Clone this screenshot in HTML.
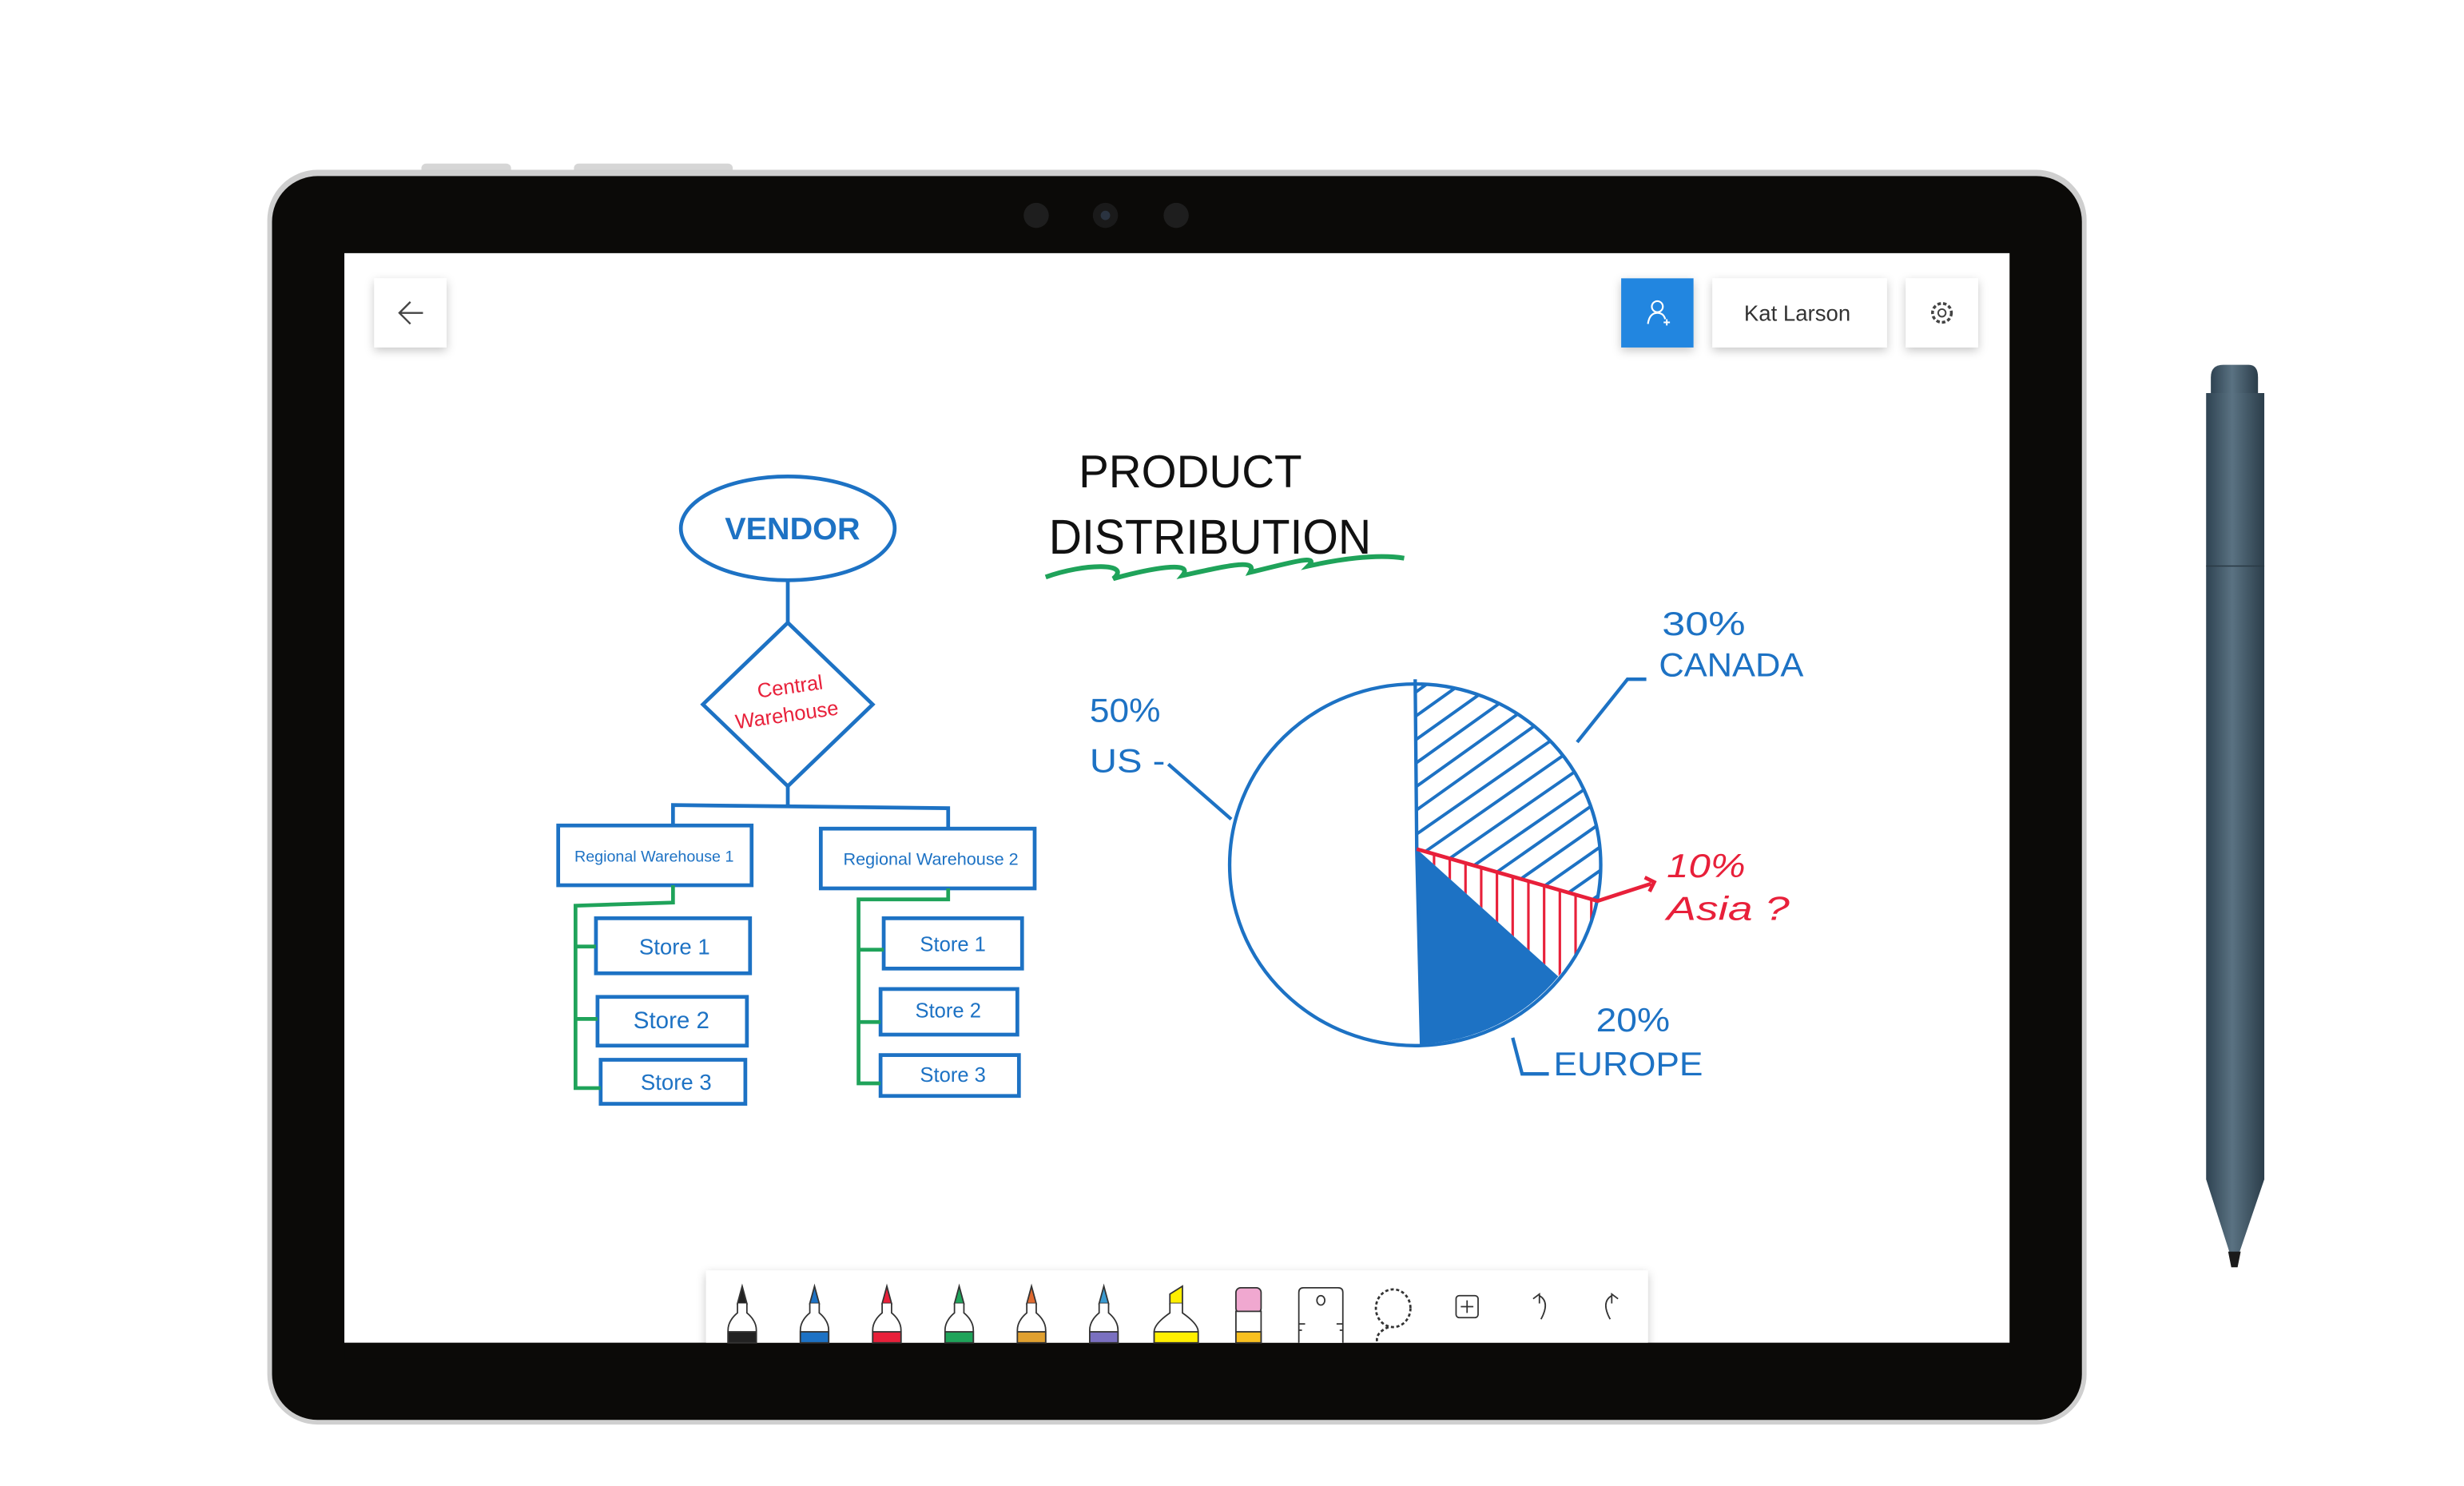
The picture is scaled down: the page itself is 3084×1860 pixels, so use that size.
<!DOCTYPE html>
<html><head><meta charset="utf-8"><style>
html,body{margin:0;padding:0;background:#fff;width:3084px;height:1860px;overflow:hidden}
svg{display:block}
text{font-family:"Liberation Sans",sans-serif}
</style></head><body>
<svg width="3084" height="1860" viewBox="0 0 1567 945.07" xmlns="http://www.w3.org/2000/svg">
<defs>
<filter id="sh" x="-30%" y="-30%" width="160%" height="170%"><feDropShadow dx="0" dy="2" stdDeviation="3" flood-color="#000" flood-opacity="0.22"/></filter>
<linearGradient id="pen" x1="0" x2="1"><stop offset="0" stop-color="#2f4352"/><stop offset="0.45" stop-color="#5a7282"/><stop offset="1" stop-color="#2b3d4a"/></linearGradient>
<clipPath id="canClip"><path d="M901,540 L900,435 A118,115 0 0 1 1016,573 Z"/></clipPath>
<clipPath id="asClip"><path d="M901,540 L1016,573 A118,115 0 0 1 991,621 Z"/></clipPath>
</defs>
<!-- tablet -->
<rect x="268" y="104" width="57" height="8" rx="3" fill="#d6d6d6"/>
<rect x="365" y="104" width="101" height="8" rx="3" fill="#d6d6d6"/>
<rect x="170" y="108" width="1157" height="798" rx="32" fill="#cfcfcf"/>
<rect x="173" y="112" width="1151" height="791" rx="29" fill="#0b0a08"/>
<circle cx="659" cy="137" r="8" fill="#1e1e1e"/><circle cx="703" cy="137" r="8" fill="#1a1a1a"/><circle cx="703" cy="137" r="3" fill="#2a3340"/><circle cx="748" cy="137" r="8" fill="#1e1e1e"/>
<rect x="219" y="161" width="1059" height="693" fill="#fff"/>
<!-- top buttons -->
<rect x="238" y="177" width="46" height="44" fill="#fff" filter="url(#sh)"/>
<path d="M254,199 H269 M261,192 L254,199 L261,206" stroke="#444" stroke-width="1.2" fill="none"/>
<rect x="1031" y="177" width="46" height="44" fill="#2386e0" filter="url(#sh)"/>
<circle cx="1054" cy="195" r="3.5" fill="none" stroke="#fff" stroke-width="1.1"/><path d="M1048,206 Q1049,199 1054,199 Q1058,199 1059,203" stroke="#fff" stroke-width="1.1" fill="none"/><path d="M1058,205 h4 M1060,203 v4" stroke="#fff" stroke-width="1"/>
<rect x="1089" y="177" width="111" height="44" fill="#fff" filter="url(#sh)"/>
<text x="1143" y="204" font-size="14" text-anchor="middle" fill="#333">Kat Larson</text>
<rect x="1212" y="177" width="46" height="44" fill="#fff" filter="url(#sh)"/>
<circle cx="1235" cy="199" r="6" fill="none" stroke="#444" stroke-width="1.8" stroke-dasharray="2.2 1.4"/><circle cx="1235" cy="199" r="2.4" fill="none" stroke="#444" stroke-width="1"/>
<!-- title -->
<text x="686" y="310" font-size="29" fill="#111" textLength="142" lengthAdjust="spacingAndGlyphs">PRODUCT</text>
<text x="667" y="352" font-size="31" fill="#111" textLength="205" lengthAdjust="spacingAndGlyphs">DISTRIBUTION</text>
<path d="M665,367 C690,358 720,358 708,368 C730,362 760,356 752,366 C780,360 800,355 795,364 C820,358 840,352 832,360 C850,356 875,352 893,355" stroke="#1fa35a" stroke-width="3" fill="none"/>
<!-- flowchart -->
<g stroke="#1d72c4" stroke-width="2.4" fill="none">
<ellipse cx="501" cy="336" rx="68" ry="33"/>
<path d="M501,369 V397"/>
<path d="M501,396 L555,448 L501,500 L447,448 Z"/>
<path d="M501,500 V512 M428,525 V512 L603,514 V527"/>
<rect x="355" y="525" width="123" height="38"/>
<rect x="522" y="527" width="136" height="38"/>
<rect x="379" y="584" width="98" height="35"/>
<rect x="380" y="634" width="95" height="31"/>
<rect x="382" y="674" width="92" height="28"/>
<rect x="562" y="584" width="88" height="32"/>
<rect x="560" y="629" width="87" height="29"/>
<rect x="560" y="671" width="88" height="26"/>
</g>
<g stroke="#1fa35a" stroke-width="2.4" fill="none">
<path d="M428,563 V574 L366,576 V692 H382 M366,602 H379 M366,648 H380"/>
<path d="M603,565 V572 H546 V689 H560 M546,604 H562 M546,650 H560"/>
</g>
<text x="504" y="343" font-size="20" font-weight="bold" fill="#1d72c4" text-anchor="middle" textLength="86" lengthAdjust="spacingAndGlyphs">VENDOR</text>
<text x="503" y="441" font-size="13" fill="#e8203a" text-anchor="middle" transform="rotate(-8 503 441)">Central</text>
<text x="501" y="459" font-size="13" fill="#e8203a" text-anchor="middle" transform="rotate(-8 501 459)">Warehouse</text>
<g fill="#1d72c4" text-anchor="middle">
<text x="416" y="548" font-size="10">Regional Warehouse 1</text>
<text x="592" y="550" font-size="11">Regional Warehouse 2</text>
<text x="429" y="607" font-size="14">Store 1</text>
<text x="427" y="654" font-size="15">Store 2</text>
<text x="430" y="693" font-size="14">Store 3</text>
<text x="606" y="605" font-size="13">Store 1</text>
<text x="603" y="647" font-size="13">Store 2</text>
<text x="606" y="688" font-size="13">Store 3</text>
</g>
<!-- pie -->
<g clip-path="url(#canClip)" stroke="#1d72c4" stroke-width="2">
<path d="M880,470 L950,420 M880,485 L960,428 M880,500 L975,432 M880,515 L985,440 M880,530 L995,448 M880,545 L1005,458 M880,560 L1012,468 M880,575 L1020,478 M880,590 L1025,490 M880,605 L1030,500 M880,620 L1030,515 M880,635 L1030,530 M880,650 L1030,545 M880,665 L1030,560 M880,680 L1030,575 M880,695 L1030,590 M880,455 L935,415 M880,440 L920,412"/>
</g>
<g clip-path="url(#asClip)" stroke="#e8203a" stroke-width="1.6">
<path d="M912,540 V560 M922,545 V570 M932,548 V590 M942,550 V600 M952,552 V610 M962,555 V620 M972,558 V630 M982,561 V635 M992,564 V630 M1002,567 V620 M1012,570 V610"/>
</g>
<path d="M901,540 L991,621 A118,115 0 0 1 904,664 Z" fill="#1d72c4"/>
<ellipse cx="900" cy="550" rx="118" ry="115" fill="none" stroke="#1d72c4" stroke-width="2.2"/>
<path d="M900,432 L901,540 L904,664" stroke="#1d72c4" stroke-width="2.2" fill="none"/>
<path d="M901,540 L1016,573 L1050,562 M1046,558 L1052,561 L1049,567" stroke="#e8203a" stroke-width="2.4" fill="none"/>
<g fill="#1d72c4" font-size="21">
<text x="693" y="459" textLength="45" lengthAdjust="spacingAndGlyphs">50%</text>
<text x="693" y="491" textLength="48" lengthAdjust="spacingAndGlyphs">US -</text>
<text x="1057" y="404" textLength="53" lengthAdjust="spacingAndGlyphs">30%</text>
<text x="1055" y="430" textLength="92" lengthAdjust="spacingAndGlyphs">CANADA</text>
<text x="1015" y="656" textLength="47" lengthAdjust="spacingAndGlyphs">20%</text>
<text x="988" y="684" textLength="95" lengthAdjust="spacingAndGlyphs">EUROPE</text>
</g>
<g fill="#e8203a" font-size="21" font-style="italic">
<text x="1060" y="558" textLength="50" lengthAdjust="spacingAndGlyphs">10%</text>
<text x="1060" y="585" textLength="78" lengthAdjust="spacingAndGlyphs">Asia ?</text>
</g>
<g stroke="#1d72c4" stroke-width="2.2" fill="none">
<path d="M743,486 L783,521"/>
<path d="M1003,472 L1035,432 H1047"/>
<path d="M962,660 L968,683 H985"/>
</g>
<!-- toolbar -->
<rect x="449" y="808" width="599" height="50" fill="#fff" filter="url(#sh)"/>
<rect x="219" y="854" width="1059" height="10" fill="#0b0a08"/>
<g stroke="#333" stroke-width="0.9">
<g transform="translate(472,0)"><path d="M-3,829 L0,818 L3,829 Z" fill="#222"/><path d="M-3,829 V835 Q-9,840 -9,846 V854 H9 V846 Q9,840 3,835 V829" fill="#fff"/><rect x="-9" y="847" width="18" height="7" fill="#222"/></g>
<g transform="translate(518,0)"><path d="M-3,829 L0,818 L3,829 Z" fill="#1d72c4"/><path d="M-3,829 V835 Q-9,840 -9,846 V854 H9 V846 Q9,840 3,835 V829" fill="#fff"/><rect x="-9" y="847" width="18" height="7" fill="#1d72c4"/></g>
<g transform="translate(564,0)"><path d="M-3,829 L0,818 L3,829 Z" fill="#e8203a"/><path d="M-3,829 V835 Q-9,840 -9,846 V854 H9 V846 Q9,840 3,835 V829" fill="#fff"/><rect x="-9" y="847" width="18" height="7" fill="#e8203a"/></g>
<g transform="translate(610,0)"><path d="M-3,829 L0,818 L3,829 Z" fill="#1fa35a"/><path d="M-3,829 V835 Q-9,840 -9,846 V854 H9 V846 Q9,840 3,835 V829" fill="#fff"/><rect x="-9" y="847" width="18" height="7" fill="#1fa35a"/></g>
<g transform="translate(656,0)"><path d="M-3,829 L0,818 L3,829 Z" fill="#e06a30"/><path d="M-3,829 V835 Q-9,840 -9,846 V854 H9 V846 Q9,840 3,835 V829" fill="#fff"/><rect x="-9" y="847" width="18" height="7" fill="#e0a030"/></g>
<g transform="translate(702,0)"><path d="M-3,829 L0,818 L3,829 Z" fill="#3a9ad0"/><path d="M-3,829 V835 Q-9,840 -9,846 V854 H9 V846 Q9,840 3,835 V829" fill="#fff"/><rect x="-9" y="847" width="18" height="7" fill="#7a70c0"/></g>
<g transform="translate(748,0)"><path d="M-4,829 L-4,823 L4,818 L4,829 Z" fill="#ffef00"/><path d="M-4,829 V835 Q-14,842 -14,847 V854 H14 V847 Q14,842 4,835 V829" fill="#fff"/><rect x="-14" y="847" width="28" height="7" fill="#ffef00"/></g>
<g transform="translate(794,0)"><rect x="-8" y="819" width="16" height="16" rx="3" fill="#f0a8d0"/><rect x="-8" y="834" width="16" height="20" fill="#fff"/><rect x="-8" y="847" width="16" height="7" fill="#f8c020"/></g>
<g transform="translate(840,0)"><path d="M-14,854 V822 Q-14,819 -11,819 H11 Q14,819 14,822 V854" fill="#fff"/><ellipse cx="0" cy="827" rx="2.5" ry="3" fill="none"/><path d="M-14,842 h4 M-14,846 h2 M14,842 h-4 M14,846 h-2"/></g>
<g transform="translate(886,0)" fill="none" stroke-dasharray="2 1.5" stroke-width="1.4"><ellipse cx="0" cy="832" rx="11" ry="12"/><path d="M-3,844 Q-12,848 -10,854"/></g>
<g transform="translate(933,0)" fill="none"><rect x="-7" y="824" width="14" height="14" rx="2"/><path d="M-4,831 h8 M0,827 v8"/></g>
<path d="M975,826 L979,823 L979,829 M979,824 Q986,828 980,839" fill="none"/>
<path d="M1029,826 L1025,823 L1025,829 M1025,824 Q1018,828 1024,839" fill="none"/>
</g>
<!-- stylus -->
<path d="M1406,250 V240 Q1406,232 1414,232 H1430 Q1436,232 1436,240 V250 Z" fill="url(#pen)"/>
<path d="M1403,250 H1440 V750 L1423,800 H1419 L1403,750 Z" fill="url(#pen)"/>
<path d="M1403,360 H1440" stroke="#2a3a45" stroke-width="0.8"/>
<path d="M1417,796 H1425 L1423,806 H1419 Z" fill="#1a1a1a"/>
</svg>
</body></html>
